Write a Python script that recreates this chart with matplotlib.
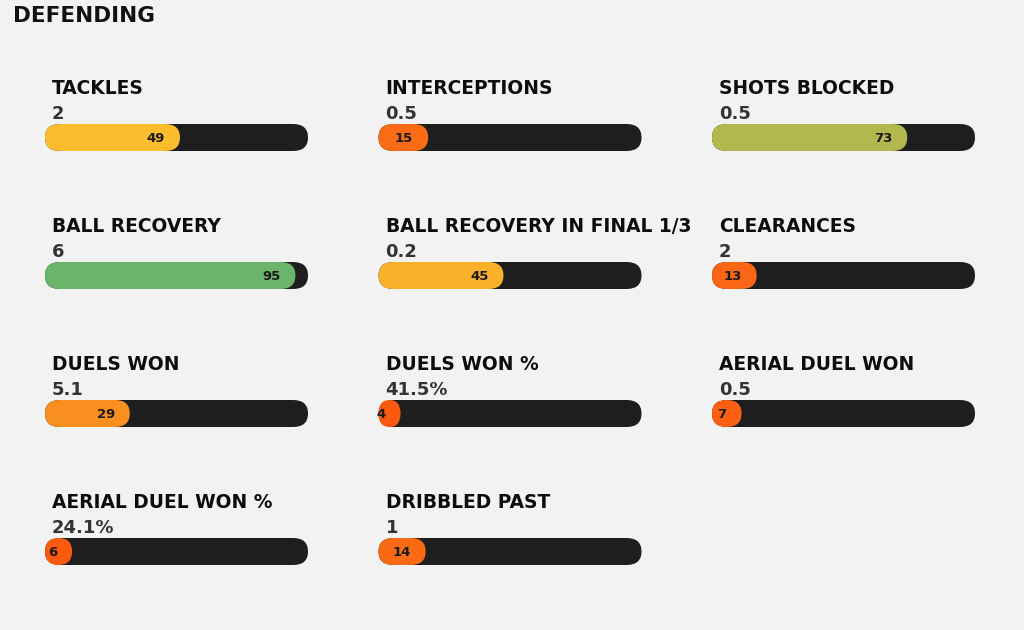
import matplotlib
matplotlib.use("Agg")
import matplotlib.pyplot as plt
from matplotlib.patches import FancyBboxPatch

# ---- data ----
title = "DEFENDING"
labels = ["TACKLES", "INTERCEPTIONS", "SHOTS BLOCKED",
          "BALL RECOVERY", "BALL RECOVERY IN FINAL 1/3", "CLEARANCES",
          "DUELS WON", "DUELS WON %", "AERIAL DUEL WON",
          "AERIAL DUEL WON %", "DRIBBLED PAST"]
raw_values = ["2", "0.5", "0.5",
              "6", "0.2", "2",
              "5.1", "41.5%", "0.5",
              "24.1%", "1"]
percentiles = [49, 15, 73,
               95, 45, 13,
               29, 4, 7,
               6, 14]
bar_colors = ["#FBBC2D", "#F96B15", "#B3B84E",
              "#6AB46B", "#FBB02B", "#FA6616",
              "#F98F1F", "#FA5A10", "#FA5F12",
              "#FA5A10", "#FA6A15"]

# ---- figure ----
BG = "#F2F2F2"
fig = plt.figure(figsize=(10.24, 6.3), dpi=100, facecolor=BG)
ax = fig.add_axes([0, 0, 1, 1])
ax.set_facecolor(BG)
ax.set_xlim(0, 1024)
ax.set_ylim(630, 0)
ax.axis("off")

ax.text(13, 16, title, fontsize=15.5, fontweight="bold", color="#111111",
        ha="left", va="center")

ncols = 3
col_w = 333.5
row_h = 138
x_start = 45
y_start = 124
inner_w = 251
cap = 12
bar_h = 27
rx = 15.0


def pill(x, y, width, color, z):
    r = min(rx, width / 2.0)
    asp = (bar_h / 2.0) / r
    ax.add_patch(FancyBboxPatch((x, y), width, bar_h,
                                boxstyle=f"round,pad=0,rounding_size={r}",
                                mutation_aspect=asp,
                                fc=color, ec="none", zorder=z))


for i, (lab, rv, p, c) in enumerate(zip(labels, raw_values, percentiles, bar_colors)):
    col, row = i % ncols, i // ncols
    x0 = x_start + col * col_w
    yt = y_start + row * row_h
    pill(x0, yt, inner_w + cap, "#1E1E1E", 2)
    w = inner_w * p / 100.0 + cap
    pill(x0, yt, w, c, 3)
    end = x0 + w
    ax.text(end - 15, yt + bar_h / 2 + 0.5, str(p), fontsize=9.5, fontweight="bold",
            color="#1A1A1A", ha="right", va="center", zorder=4)
    ax.text(x0 + 7, yt - 30, lab, fontsize=13.4, fontweight="bold", color="#0D0D0D",
            ha="left", va="baseline")
    ax.text(x0 + 7, yt - 5, rv, fontsize=13, fontweight="bold", color="#333333",
            ha="left", va="baseline")

fig.savefig("out.png", dpi=100, facecolor=BG)
